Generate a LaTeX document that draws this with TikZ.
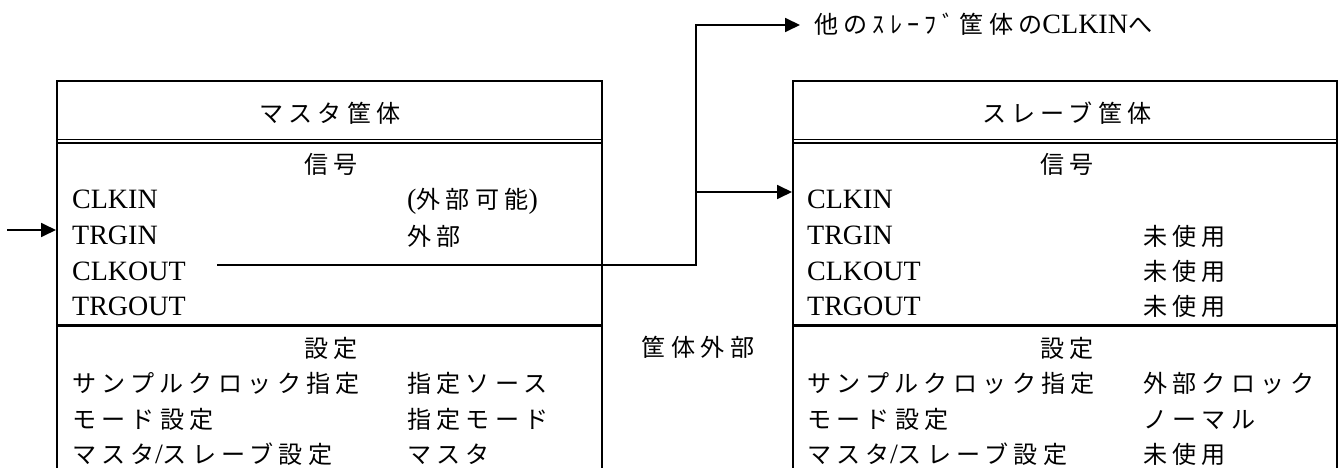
\documentclass[tikz,border=0pt]{standalone}
\usepackage{fontspec}
\setmainfont{Liberation Serif}
\newfontfamily\jpfont[Scale=0.86,LetterSpace=22]{Noto Sans CJK JP}
\newcommand\jp[1]{{\jpfont #1}}
\usetikzlibrary{arrows.meta}
\begin{document}
\begin{tikzpicture}[x=1pt,y=-1pt,
  font=\fontsize{28pt}{34pt}\selectfont,
  box/.style={draw, line width=2.2pt, inner sep=0pt, anchor=north west},
  sepline/.style={line width=2.2pt},
  dblline/.style={line width=1.5pt},
  conn/.style={line width=1.8pt},
  arr/.style={conn, -{Triangle[length=15pt,width=14pt]}},
  txt/.style={inner sep=0pt, anchor=base west},
  ctr/.style={inner sep=0pt, anchor=base}]
\useasboundingbox (0,0) rectangle (1340,468);
\clip (0,0) rectangle (1340,468);

% boxes (open at the bottom: they run past the picture's edge)
\node[box, minimum width=545pt, minimum height=430pt] (master) at (56,80) {};
\node[box, minimum width=544pt, minimum height=430pt] (slave) at (792,80) {};

\foreach \b in {master,slave}{
  \draw[dblline] ([yshift=-59.6pt]\b.north west) -- ([yshift=-59.6pt]\b.north east);
  \draw[dblline] ([yshift=-63pt]\b.north west) -- ([yshift=-63pt]\b.north east);
  \draw[sepline] ([yshift=-245.5pt]\b.north west) -- ([yshift=-245.5pt]\b.north east);
}

% master texts
\node[ctr] (mtitle) at (330,122) {\jp{マスタ筐体}};
\node[ctr] (msig) at (331,173) {\jp{信号}};
\node[txt] (mclkin) at (72,208) {CLKIN};
\node[txt] (mclkinv) at (407,208) {(\jp{外部可能})};
\node[txt] (mtrgin) at (72,244) {TRGIN};
\node[txt] (mtrginv) at (407,245) {\jp{外部}};
\node[txt] (mclkout) at (72,280) {CLKOUT};
\node[txt] (mtrgout) at (72,315) {TRGOUT};
\node[ctr] (mset) at (331,357) {\jp{設定}};
\node[txt] (msamp) at (72,392) {\jp{サンプルクロック指定}};
\node[txt] (msampv) at (407,392) {\jp{指定ソース}};
\node[txt] (mmode) at (72,428) {\jp{モード設定}};
\node[txt] (mmodev) at (407,428) {\jp{指定モード}};
\node[txt] (mms) at (72,463) {\jp{マスタ}/\jp{スレーブ設定}};
\node[txt] (mmsv) at (407,463) {\jp{マスタ}};

% slave texts
\node[ctr] (stitle) at (1067,122) {\jp{スレーブ筐体}};
\node[ctr] (ssig) at (1067,173) {\jp{信号}};
\node[txt] (sclkin) at (807,208) {CLKIN};
\node[txt] (strgin) at (807,244) {TRGIN};
\node[txt] (strginv) at (1143,245) {\jp{未使用}};
\node[txt] (sclkout) at (807,280) {CLKOUT};
\node[txt] (sclkoutv) at (1143,280) {\jp{未使用}};
\node[txt] (strgout) at (807,315) {TRGOUT};
\node[txt] (strgoutv) at (1143,315) {\jp{未使用}};
\node[ctr] (sset) at (1067,357) {\jp{設定}};
\node[txt] (ssamp) at (807,392) {\jp{サンプルクロック指定}};
\node[txt] (ssampv) at (1143,392) {\jp{外部クロック}};
\node[txt] (smode) at (807,428) {\jp{モード設定}};
\node[txt] (smodev) at (1143,428) {\jp{ノーマル}};
\node[txt] (sms) at (807,463) {\jp{マスタ}/\jp{スレーブ設定}};
\node[txt] (smsv) at (1143,463) {\jp{未使用}};

% outside texts
\node[ctr] (outside) at (698,356) {\jp{筐体外部}};
\node[txt] (other) at (814,34) {\jp{他のｽﾚｰﾌﾞ筐体の}CLKIN\jp{へ}};

% connectors
\coordinate (trgsrc) at (7,230);
\draw[arr] (trgsrc) -- (trgsrc -| master.west);

\coordinate (cout) at (217,265);
\coordinate (riser) at (696,265);
\coordinate (otip) at (800,25);
\draw[arr] (cout) -- (riser) |- (otip);

\coordinate (branch) at (696,192);
\draw[arr] (branch) -- (branch -| slave.west);
\end{tikzpicture}
\end{document}
